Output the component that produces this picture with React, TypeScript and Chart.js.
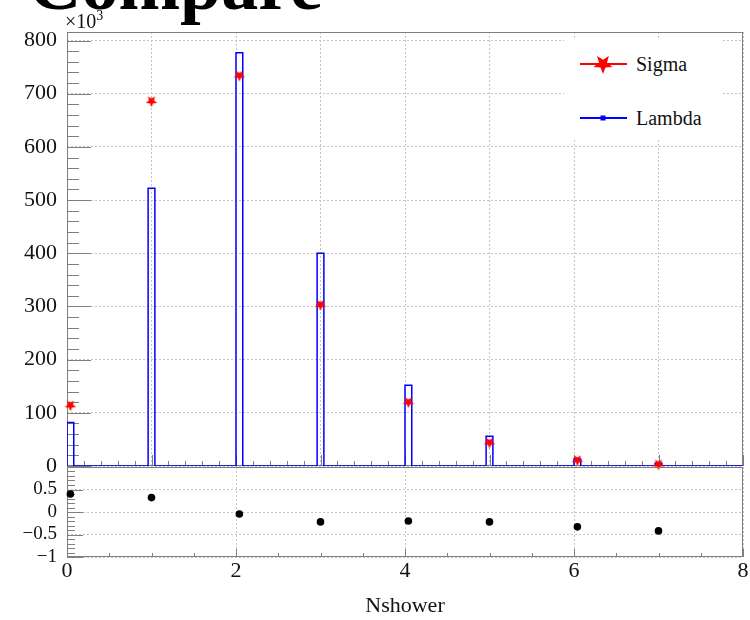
import React, { useEffect, useRef } from 'react';
import { Chart, registerables } from 'chart.js';

Chart.register(...registerables);

const SERIF = '"Liberation Serif", "Times New Roman", serif';

// ---- data (counts in units of 10^3) ----
const nshower = [0, 1, 2, 3, 4, 5, 6, 7];
const sigmaCounts = [114, 686, 734, 303, 120, 44, 11, 3];
const lambdaCounts = [82, 522, 777, 400, 152, 56, 13, 5];
const ratioValues = [0.4, 0.32, -0.045, -0.22, -0.2, -0.22, -0.33, -0.42];

const seriesNames = ['Sigma', 'Lambda'];
const xAxisTitle = 'Nshower';
const plotTitle = 'Compare';

// histogram binning: 100 bins over [0, 8]
const X_MIN = 0;
const X_MAX = 8;
const N_BINS = 100;
const BIN_W = (X_MAX - X_MIN) / N_BINS;
const binLow = (v: number) => Math.floor((v - X_MIN) / BIN_W + 1e-9) * BIN_W + X_MIN;

function buildStepPoints(xs: number[], ys: number[]) {
  const pts: { x: number; y: number }[] = [{ x: X_MIN, y: 0 }];
  xs.forEach((xv, i) => {
    const lo = binLow(xv);
    const hi = lo + BIN_W;
    pts.push({ x: lo, y: 0 }, { x: lo, y: ys[i] }, { x: hi, y: ys[i] }, { x: hi, y: 0 });
  });
  pts.push({ x: X_MAX, y: 0 });
  return pts;
}
const centerPoints = (xs: number[], ys: number[]) =>
  xs.map((xv, i) => ({ x: binLow(xv) + BIN_W / 2, y: ys[i] }));

function starPath(cx: number, cy: number, r: number, inner: number) {
  const pts: [number, number][] = [];
  for (let i = 0; i < 10; i++) {
    const ang = Math.PI + (i * Math.PI) / 5;
    const rad = i % 2 === 0 ? r : r * inner;
    pts.push([cx + rad * Math.sin(ang), cy - rad * Math.cos(ang)]);
  }
  return pts;
}

function makeStar(r: number, color: string): HTMLCanvasElement {
  const size = Math.ceil(r * 2 + 2);
  const c = document.createElement('canvas');
  c.width = size;
  c.height = size;
  const g = c.getContext('2d')!;
  g.fillStyle = color;
  g.beginPath();
  starPath(size / 2, size / 2, r, 0.45).forEach(([x, y], i) => (i === 0 ? g.moveTo(x, y) : g.lineTo(x, y)));
  g.closePath();
  g.fill();
  return c;
}

const framePlugin = {
  id: 'rootFrame',
  beforeDatasetsDraw(chart: any, _args: any, opts: any) {
    const { ctx, chartArea: a, scales } = chart;
    ctx.save();
    ctx.strokeStyle = '#7f7f7f';
    ctx.lineWidth = 1;
    ctx.strokeRect(a.left + 0.5, a.top + 0.5, a.right - a.left - 1, a.bottom - a.top - 1);
    const xs = scales.x;
    const ys = scales.y;
    const ox = opts.x;
    const oy = opts.y;
    ctx.beginPath();
    const nx = Math.round((xs.max - xs.min) / ox.minor);
    for (let i = 0; i <= nx; i++) {
      const v = xs.min + i * ox.minor;
      const major = Math.abs(v / ox.major - Math.round(v / ox.major)) < 1e-6;
      const px = Math.round(xs.getPixelForValue(v)) + 0.5;
      const len = major ? ox.majorLen : ox.minorLen;
      ctx.moveTo(px, a.bottom);
      ctx.lineTo(px, a.bottom - len);
    }
    const ny = Math.floor((ys.max - ys.min) / oy.minor + 1e-6);
    for (let i = 0; i <= ny; i++) {
      const v = ys.min + i * oy.minor;
      const major = Math.abs(v / oy.major - Math.round(v / oy.major)) < 1e-6;
      const py = Math.round(ys.getPixelForValue(v)) + 0.5;
      const len = major ? oy.majorLen : oy.minorLen;
      ctx.moveTo(a.left, py);
      ctx.lineTo(a.left + len, py);
    }
    ctx.stroke();
    ctx.restore();
  },
};

const gridStyle = { color: '#c4c4c4', lineWidth: 1, drawTicks: false };
const borderStyle = { display: false, dash: [2, 2] };

export default function App() {
  const upperRef = useRef<HTMLCanvasElement>(null);
  const lowerRef = useRef<HTMLCanvasElement>(null);

  useEffect(() => {
    const star = makeStar(6, '#ff0000');
    const upper = new Chart(upperRef.current!, {
      type: 'line',
      data: {
        datasets: [
          {
            label: seriesNames[0],
            data: centerPoints(nshower, sigmaCounts),
            showLine: false,
            pointStyle: star as any,
            pointRadius: 6,
            borderColor: '#ff0000',
            backgroundColor: '#ff0000',
            clip: false as any,
          },
          {
            label: seriesNames[1],
            data: buildStepPoints(nshower, lambdaCounts),
            borderColor: '#0000ff',
            borderWidth: 1.5,
            pointRadius: 0,
            tension: 0,
            fill: false,
          },
        ],
      },
      options: {
        animation: false,
        responsive: false,
        devicePixelRatio: 1,
        layout: { padding: { left: 0, right: 7, top: 32, bottom: 24 } },
        plugins: {
          legend: { display: false },
          tooltip: { enabled: false },
          rootFrame: {
            x: { minor: 0.2, major: 1, minorLen: 5, majorLen: 11 },
            y: { minor: 20, major: 100, minorLen: 12, majorLen: 24 },
          },
        } as any,
        scales: {
          x: {
            type: 'linear',
            min: X_MIN,
            max: X_MAX,
            ticks: { display: false, stepSize: 1 },
            grid: gridStyle,
            border: borderStyle,
            afterFit: (s: any) => {
              s.height = 0;
            },
          },
          y: {
            type: 'linear',
            min: 0,
            max: 816,
            ticks: {
              stepSize: 100,
              includeBounds: false,
              autoSkip: false,
              padding: 10,
              color: '#111',
              font: { family: SERIF, size: 22 },
              callback: (v: any) => String(v),
            },
            grid: gridStyle,
            border: borderStyle,
            afterFit: (s: any) => {
              s.width = 67;
            },
          },
        },
      },
      plugins: [framePlugin],
    });

    const lower = new Chart(lowerRef.current!, {
      type: 'line',
      data: {
        datasets: [
          {
            label: 'ratio',
            data: centerPoints(nshower, ratioValues),
            showLine: false,
            pointStyle: 'circle',
            pointRadius: 3.8,
            borderWidth: 0,
            backgroundColor: '#000',
            borderColor: '#000',
            clip: false as any,
          },
        ],
      },
      options: {
        animation: false,
        responsive: false,
        devicePixelRatio: 1,
        layout: { padding: { left: 0, right: 7, top: 26, bottom: 0 } },
        plugins: {
          legend: { display: false },
          tooltip: { enabled: false },
          rootFrame: {
            x: { minor: 0.5, major: 2, minorLen: 4, majorLen: 8 },
            y: { minor: 0.1, major: 0.5, minorLen: 8, majorLen: 16 },
          },
        } as any,
        scales: {
          x: {
            type: 'linear',
            min: X_MIN,
            max: X_MAX,
            ticks: {
              stepSize: 2,
              padding: 1,
              color: '#111',
              maxRotation: 0,
              autoSkip: false,
              font: { family: SERIF, size: 22 },
              callback: (v: any) => String(v),
            },
            grid: gridStyle,
            border: borderStyle,
            title: {
              display: true,
              text: xAxisTitle,
              color: '#111',
              font: { family: SERIF, size: 22 },
              padding: { top: 0, bottom: 1 },
            },
            afterFit: (s: any) => {
              s.height = 63;
            },
          },
          y: {
            type: 'linear',
            min: -1,
            max: 1,
            ticks: {
              stepSize: 0.5,
              padding: 10,
              autoSkip: false,
              color: '#111',
              font: { family: SERIF, size: 19 },
              callback: (v: any) => (v === 1 ? '' : v < 0 ? '\u2212' + Math.abs(v) : String(v)),
            },
            grid: gridStyle,
            border: borderStyle,
            afterFit: (s: any) => {
              s.width = 67;
            },
          },
        },
      },
      plugins: [framePlugin],
    });

    return () => {
      upper.destroy();
      lower.destroy();
    };
  }, []);

  const legendStar = starPath(23, 11, 10, 0.42)
    .map(([x, y]) => `${x.toFixed(2)},${y.toFixed(2)}`)
    .join(' ');

  return (
    <div
      style={{
        position: 'absolute',
        left: 0,
        top: 0,
        width: 750,
        height: 620,
        overflow: 'hidden',
        background: '#fff',
        fontFamily: SERIF,
        color: '#111',
      }}
    >
      <canvas ref={upperRef} width={750} height={490} style={{ position: 'absolute', left: 0, top: 0 }} />
      <canvas ref={lowerRef} width={750} height={179} style={{ position: 'absolute', left: 0, top: 441 }} />
      <div
        style={{
          position: 'absolute',
          left: 28,
          top: -53,
          fontSize: 74,
          lineHeight: '74px',
          fontWeight: 'bold',
          whiteSpace: 'nowrap',
          color: '#000',
        }}
      >
        {plotTitle}
      </div>
      <div style={{ position: 'absolute', left: 65, top: 11, fontSize: 20, lineHeight: '20px', whiteSpace: 'nowrap' }}>
        ×10<span style={{ fontSize: 14, position: 'relative', top: -8 }}>3</span>
      </div>
      <div style={{ position: 'absolute', left: 564, top: 38, width: 157, height: 100, background: '#fff' }}>
        <svg width={50} height={24} style={{ position: 'absolute', left: 16, top: 14 }}>
          <line x1={0} y1={12} x2={47} y2={12} stroke="#ff0000" strokeWidth={2} />
          <polygon points={legendStar} fill="#ff0000" transform="translate(0,1)" />
        </svg>
        <div style={{ position: 'absolute', left: 72, top: 14, fontSize: 20, lineHeight: '24px' }}>{seriesNames[0]}</div>
        <svg width={50} height={24} style={{ position: 'absolute', left: 16, top: 68 }}>
          <line x1={0} y1={12} x2={47} y2={12} stroke="#0000ff" strokeWidth={2} />
          <rect x={20.5} y={9.5} width={5} height={5} fill="#0000ff" />
        </svg>
        <div style={{ position: 'absolute', left: 72, top: 68, fontSize: 20, lineHeight: '24px' }}>{seriesNames[1]}</div>
      </div>
    </div>
  );
}
